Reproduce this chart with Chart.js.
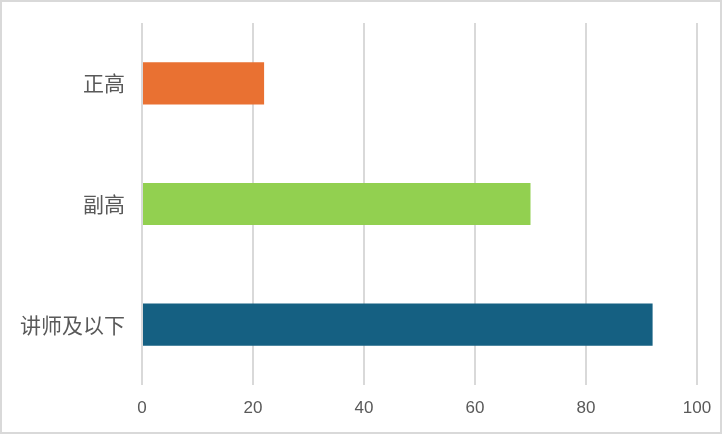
<!DOCTYPE html>
<html>
<head>
<meta charset="utf-8">
<script src="https://cdn.jsdelivr.net/npm/chart.js@4"></script>
<style>
  html, body { margin: 0; padding: 0; background: #fff; }
  canvas { display: block; }
</style>
</head>
<body>
<canvas id="chart" width="722" height="434"></canvas>
<script>
// categories + values
const categories = ['正高', '副高', '讲师及以下'];
const counts = [22, 70, 92];
const barColors = ['#E97132', '#92D050', '#156082'];
const xTicks = [0, 20, 40, 60, 80, 100];

// white page with a light grey frame
const frameBG = {
  id: 'frameBG',
  beforeDraw: function(chart) {
    const ctx = chart.ctx;
    ctx.save();
    ctx.fillStyle = '#ffffff';
    ctx.fillRect(0, 0, chart.width, chart.height);
    ctx.strokeStyle = '#d9d9d9';
    ctx.lineWidth = 2;
    ctx.strokeRect(1, 1, chart.width - 2, chart.height - 2);
    ctx.restore();
  }
};

const ctx = document.getElementById('chart').getContext('2d');
const barChart = new Chart(ctx, {
  type: 'bar',
  data: {
    labels: categories,
    datasets: [{
      data: counts,
      backgroundColor: barColors,
      borderWidth: 0,
      barPercentage: 0.35,
      categoryPercentage: 1
    }]
  },
  options: {
    indexAxis: 'y',
    responsive: false,
    animation: false,
    layout: { padding: { top: 23, right: 25, bottom: 0, left: 0 } },
    plugins: {
      legend: { display: false },
      tooltip: { enabled: false }
    },
    scales: {
      x: {
        min: xTicks[0],
        max: xTicks[xTicks.length - 1],
        afterBuildTicks: function(scale) {
          scale.ticks = xTicks.map(v => ({ value: v }));
        },
        afterFit: function(scale) {
          // fixed plot box, no label overflow padding
          scale.height = 49;
          scale.paddingLeft = 0;
          scale.paddingRight = 0;
        },
        grid: { color: '#d9d9d9', lineWidth: 2, drawTicks: false },
        border: { display: false },
        ticks: {
          color: '#595959',
          padding: 13,
          font: { family: '"Liberation Sans Narrow", "Liberation Sans", sans-serif', size: 17 }
        }
      },
      y: {
        afterFit: function(scale) {
          scale.width = 142;
          scale.paddingTop = 0;
          scale.paddingBottom = 0;
        },
        grid: { display: false, drawTicks: false },
        border: { display: false },
        ticks: {
          color: '#595959',
          padding: 17,
          font: { family: '"Noto Sans CJK SC", sans-serif', size: 21 }
        }
      }
    }
  },
  plugins: [frameBG]
});
</script>
</body>
</html>
